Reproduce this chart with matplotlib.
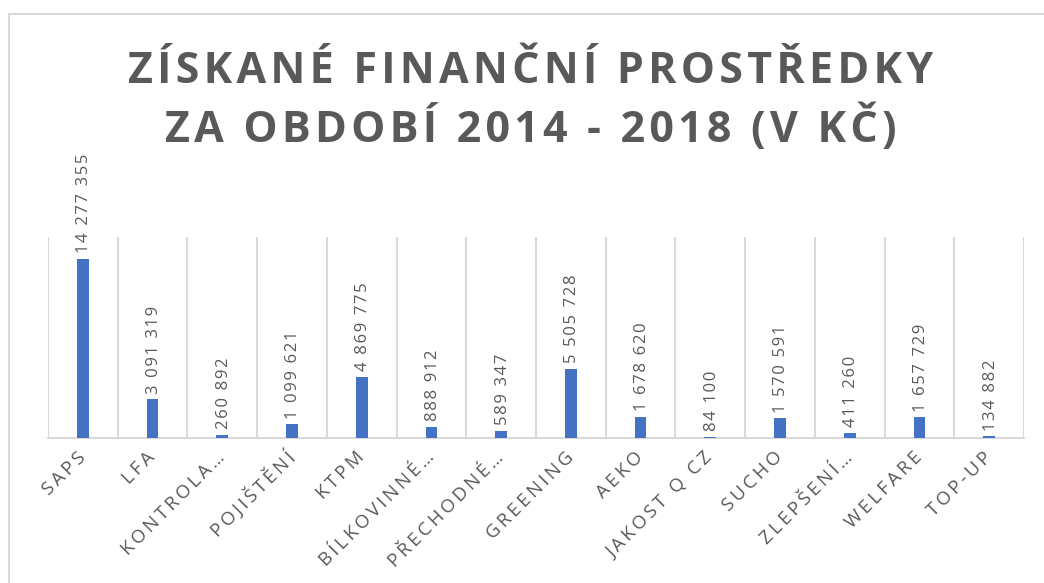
import matplotlib.pyplot as plt
import numpy as np

categories = ['SAPS', 'LFA', 'KONTROLA…', 'POJIŠTĚNÍ', 'KTPM', 'BÍLKOVINNÉ…',
              'PŘECHODNÉ…', 'GREENING', 'AEKO', 'JAKOST Q CZ', 'SUCHO',
              'ZLEPŠENÍ…', 'WELFARE', 'TOP-UP']
values = [14277355, 3091319, 260892, 1099621, 4869775, 888912,
          589347, 5505728, 1678620, 84100, 1570591, 411260, 1657729, 134882]

gray = '#595959'
grid = '#D9D9D9'
fam = ['Open Sans', 'DejaVu Sans']


def spaced(s, sep='\u2009'):
    return sep.join(s)


fig = plt.figure(figsize=(10.44, 5.83), dpi=100)
ax = fig.add_axes([48 / 1044, 1 - 438 / 583, 976 / 1044, 201 / 583])

x = np.arange(len(categories))
ax.bar(x, values, width=0.17, color='#4472C4', zorder=3)

ax.set_xlim(-0.5, len(categories) - 0.5)
ax.set_ylim(0, 16000000)

for b in np.arange(-0.5, len(categories), 1.0):
    ax.axvline(b, color=grid, lw=1.5, zorder=1)

for s in ['top', 'left', 'right']:
    ax.spines[s].set_visible(False)
ax.spines['bottom'].set_color(grid)
ax.spines['bottom'].set_linewidth(1.5)
ax.set_yticks([])
ax.tick_params(axis='x', length=0, pad=12)
ax.set_xticks(x)
ax.set_xticklabels([spaced(c) for c in categories], rotation=45, ha='right',
                   va='center', rotation_mode='anchor', color=gray,
                   fontsize=13.5, family=fam)

for xi, v in zip(x, values):
    lab = spaced(f'{v:,}'.replace(',', ' '), '\u200a')
    ax.annotate(lab, (xi, v), xytext=(1, 4), textcoords='offset points',
                rotation=90, ha='center', va='bottom', color=gray,
                fontsize=12, family=fam, annotation_clip=False)

title = ['ZÍSKANÉ FINANČNÍ PROSTŘEDKY', 'ZA OBDOBÍ 2014 - 2018 (V KČ)']
fig.text(531 / 1044, 1 - 101 / 583,
         '\n'.join(spaced(t, '\u200a') for t in title),
         ha='center', va='center', fontsize=31, fontweight='bold',
         color=gray, family=fam, linespacing=1.3)

# outer chart frame (left and top edges visible in the crop)
fig.add_artist(plt.Line2D([9 / 1044, 9 / 1044], [0, 1 - 14 / 583],
                          transform=fig.transFigure, color=grid, lw=1.5))
fig.add_artist(plt.Line2D([9 / 1044, 1], [1 - 14 / 583, 1 - 14 / 583],
                          transform=fig.transFigure, color=grid, lw=1.5))

fig.savefig('out.png', dpi=100)
